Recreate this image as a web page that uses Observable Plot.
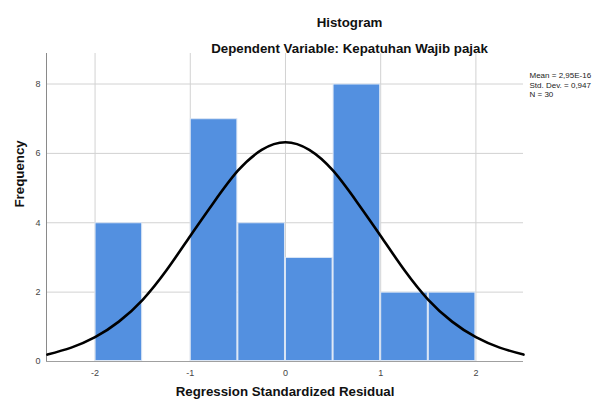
<!DOCTYPE html>
<html>
<head>
<meta charset="utf-8">
<script src="https://cdn.jsdelivr.net/npm/d3@7"></script>
<script src="https://cdn.jsdelivr.net/npm/@observablehq/plot@0.6"></script>
<style>
  html, body { margin: 0; padding: 0; background: #fff; }
  #chart svg { display: block; font-family: "Liberation Sans", Arial, sans-serif; }
</style>
</head>
<body>
<div id="chart"></div>
<script>
// Data
const binLo = [-2, -1.5, -1, -0.5, 0, 0.5, 1, 1.5];
const binHi = [-1.5, -1, -0.5, 0, 0.5, 1, 1.5, 2];
const counts = [4, 0, 7, 4, 3, 8, 2, 2];

// Normal curve
const curveX = [-2.5, -2.25, -2, -1.75, -1.5, -1.25, -1, -0.75, -0.5, -0.25, 0, 0.25, 0.5, 0.75, 1, 1.25, 1.5, 1.75, 2, 2.25, 2.5];
const curveY = [0.2, 0.4, 0.7, 1.15, 1.78, 2.63, 3.62, 4.6, 5.5, 6.1, 6.32, 6.1, 5.5, 4.6, 3.62, 2.63, 1.78, 1.15, 0.7, 0.4, 0.2];

const xTicks = [-2, -1, 0, 1, 2];
const yTicks = [0, 2, 4, 6, 8];

const title = "Histogram";
const subtitle = "Dependent Variable: Kepatuhan Wajib pajak";
const xLabel = "Regression Standardized Residual";
const yLabel = "Frequency";
const statsLines = ["Mean = 2,95E-16", "Std. Dev. = 0,947", "N = 30"];

const bins = binLo.map((lo, i) => ({lo, hi: binHi[i], count: counts[i]})).filter(d => d.count > 0);
const curve = curveX.map((x, i) => ({x, y: curveY[i]}));

const xDomain = [-2.51, 2.5];

const chart = Plot.plot({
  width: 597,
  height: 402,
  marginLeft: 46,
  marginRight: 74,
  marginTop: 53,
  marginBottom: 41,
  style: {fontFamily: "'Liberation Sans', Arial, sans-serif", background: "#fff"},
  x: {domain: xDomain, label: null},
  y: {domain: [0, 8.88], label: null},
  marks: [
    Plot.gridX(xTicks, {stroke: "#d2d2d2", strokeOpacity: 1}),
    Plot.gridY(yTicks, {stroke: "#d2d2d2", strokeOpacity: 1}),
    Plot.rectY(bins, {x1: "lo", x2: "hi", y: "count", fill: "#5390e0", stroke: "#dbe6f5", strokeWidth: 1, inset: 0.5}),
    Plot.ruleX([xDomain[0]], {stroke: "#8a8a8a", strokeWidth: 1}),
    Plot.ruleY([0], {stroke: "#a0a0a0", strokeWidth: 1}),
    Plot.line(curve, {x: "x", y: "y", curve: "natural", stroke: "#000", strokeWidth: 2.6}),
    Plot.axisX(xTicks, {tickSize: 0, tickPadding: 8, fontSize: 9, fill: "#444", tickFormat: d => String(d)}),
    Plot.axisY(yTicks, {tickSize: 0, tickPadding: 6, fontSize: 9, fill: "#444"}),
    Plot.text([title], {frameAnchor: "top-left", dx: 303, dy: -36, fontSize: 13.3, fontWeight: "bold", fill: "#111", textAnchor: "middle"}),
    Plot.text([subtitle], {frameAnchor: "top-left", dx: 303, dy: -10, fontSize: 13.3, fontWeight: "bold", fill: "#111", textAnchor: "middle"}),
    Plot.text([xLabel], {frameAnchor: "bottom", dy: 34, fontSize: 13.3, fontWeight: "bold", fill: "#111"}),
    Plot.text([yLabel], {frameAnchor: "left", dx: -27, fontSize: 13.3, fontWeight: "bold", fill: "#111", rotate: -90}),
    Plot.text([statsLines.join("\n")], {frameAnchor: "top-right", dx: 6, dy: 31, fontSize: 8, lineHeight: 1.2, textAnchor: "start", lineAnchor: "middle", fill: "#222"})
  ]
});

document.getElementById("chart").appendChild(chart);
</script>
</body>
</html>
